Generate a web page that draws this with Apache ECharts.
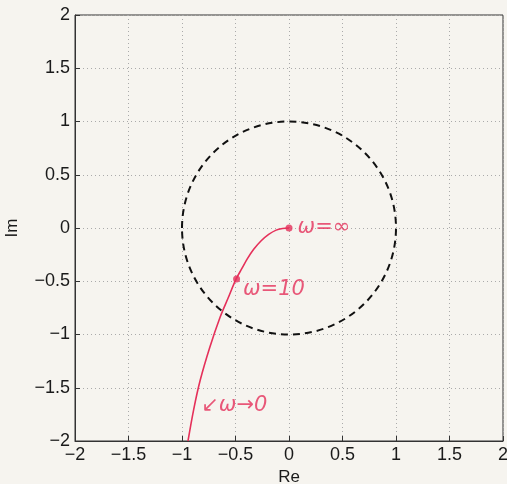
<!DOCTYPE html>
<html>
<head>
<meta charset="utf-8">
<script src="https://cdn.jsdelivr.net/npm/echarts@6/dist/echarts.min.js"></script>
<style>
  html, body { margin: 0; padding: 0; background: #f6f4ef; }
  #chart { width: 507px; height: 484px; }
</style>
</head>
<body>
<div id="chart"></div>
<script>
// locus (Re, Im)
const locusRe = [0, -0.06, -0.12, -0.19, -0.26, -0.33, -0.39, -0.44, -0.495, -0.57, -0.645, -0.74, -0.83, -0.89, -0.944];
const locusIm = [0, -0.005, -0.02, -0.06, -0.12, -0.2, -0.29, -0.38, -0.48, -0.66, -0.84, -1.12, -1.43, -1.7, -2];
const markedPoints = [[0, 0], [-0.49, -0.48]];
const unitCircle = { centre: [0, 0], radius: 1 };
const notes = [
  { at: [0.08, 0], text: 'ω=∞' },
  { at: [-0.43, -0.58], text: 'ω=10' },
  { at: [-0.82, -1.67], text: '↙ω→0' }
];
const axisMin = -2, axisMax = 2, axisStep = 0.5;

const pink = '#e5305a';
const fmt = v => String(v).replace('-', '\u2212');

const chart = echarts.init(document.getElementById('chart'));

const axisCommon = {
  type: 'value',
  min: axisMin,
  max: axisMax,
  interval: axisStep,
  axisLine: { show: true, onZero: false, lineStyle: { color: '#333', width: 1 } },
  axisTick: { show: true, inside: true, length: 5, lineStyle: { color: '#333' } },
  splitLine: { show: true, lineStyle: { color: '#aaa', type: [1, 3], width: 1 } },
  axisLabel: { color: '#1a1a1a', fontSize: 18, fontFamily: 'Liberation Sans', formatter: fmt },
  nameLocation: 'middle',
  nameTextStyle: { color: '#1a1a1a', fontSize: 17, fontFamily: 'Liberation Sans' }
};

chart.setOption({
  animation: false,
  backgroundColor: '#f6f4ef',
  grid: {
    left: 75, right: 4, top: 15, bottom: 43,
    outerBoundsMode: 'none', containLabel: false,
    show: true, borderColor: '#333', borderWidth: 1
  },
  xAxis: Object.assign({}, axisCommon, {
    name: 'Re', nameGap: 27,
    axisLabel: Object.assign({}, axisCommon.axisLabel, { margin: 5 })
  }),
  yAxis: Object.assign({}, axisCommon, {
    name: 'Im', nameGap: 54,
    axisLabel: Object.assign({}, axisCommon.axisLabel, { margin: 5 })
  }),
  series: [
    {
      type: 'custom',
      silent: true,
      data: [[unitCircle.centre[0], unitCircle.centre[1], unitCircle.radius]],
      renderItem: function (params, api) {
        const c = api.coord([api.value(0), api.value(1)]);
        const size = api.size([api.value(2), api.value(2)]);
        return {
          type: 'ellipse',
          shape: { cx: c[0], cy: c[1], rx: size[0], ry: size[1] },
          style: { fill: 'none', stroke: '#111', lineWidth: 2, lineDash: [7, 5] }
        };
      }
    },
    {
      type: 'line',
      smooth: 0.35,
      symbol: 'none',
      data: locusRe.map((re, i) => [re, locusIm[i]]),
      lineStyle: { color: pink, width: 1.6 },
      clip: true
    },
    {
      type: 'scatter',
      symbolSize: 7,
      data: markedPoints,
      itemStyle: { color: pink }
    },
    {
      type: 'scatter',
      symbolSize: 0,
      data: notes.map(n => ({ value: n.at, label: { formatter: n.text } })),
      label: {
        show: true,
        position: 'right',
        distance: 0,
        color: pink,
        fontSize: 21,
        fontStyle: 'italic',
        fontFamily: 'DejaVu Sans'
      }
    }
  ]
});
</script>
</body>
</html>
